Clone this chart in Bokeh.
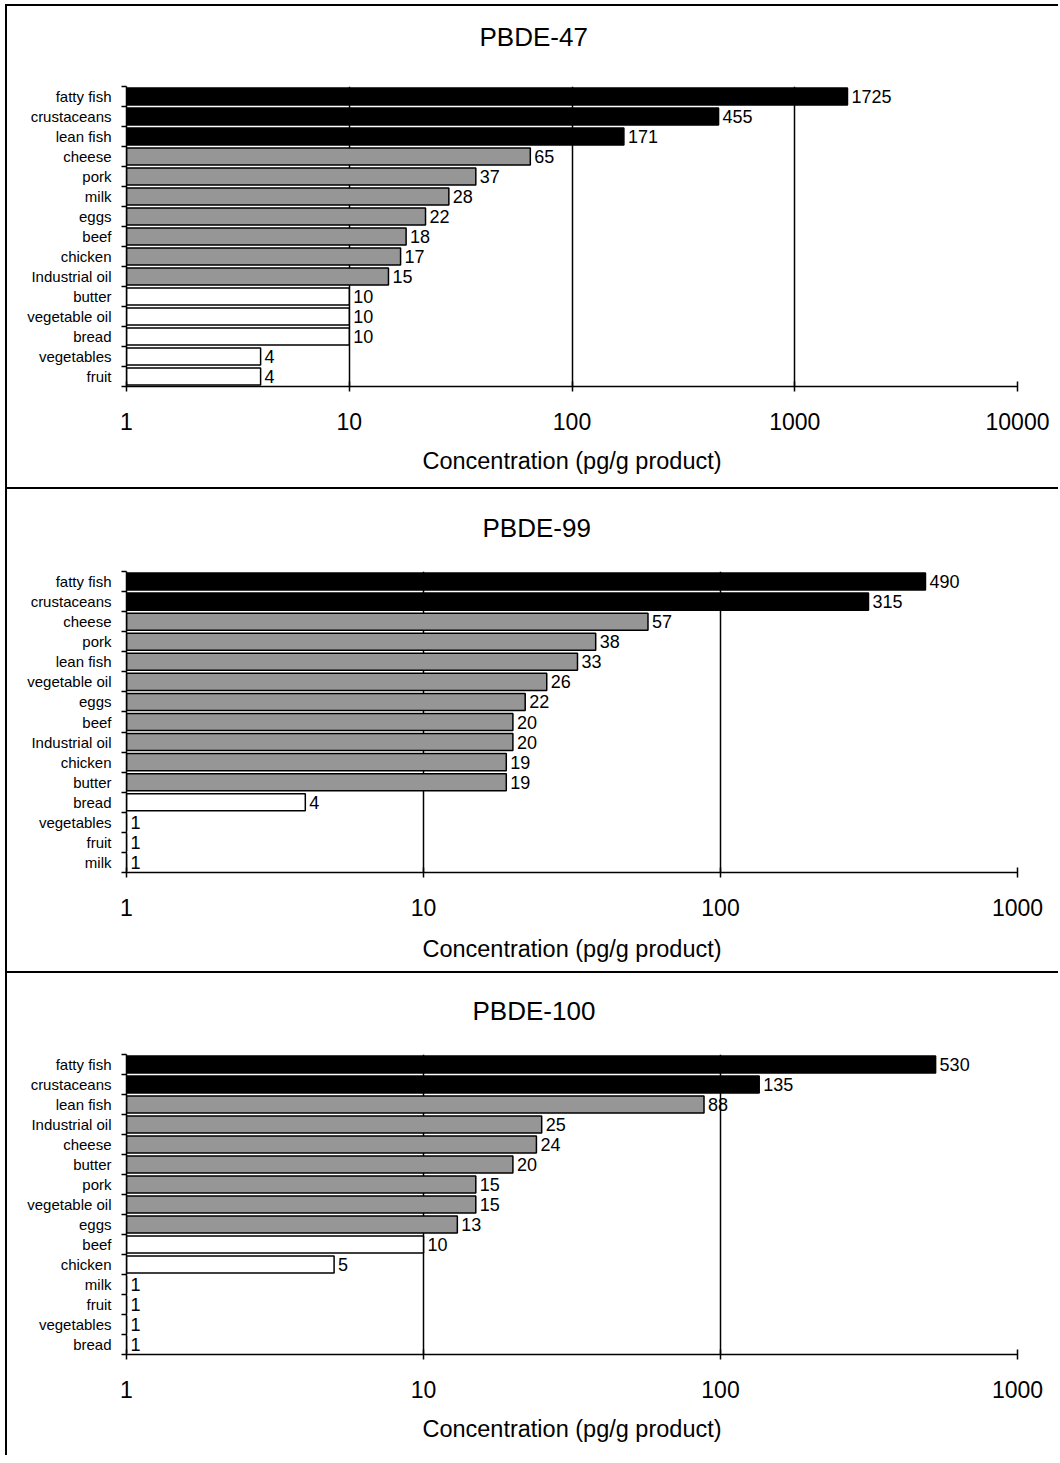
from bokeh.plotting import figure
from bokeh.layouts import column
from bokeh.models import (FixedTicker, LinearAxis, PrintfTickFormatter, Range1d, ColumnDataSource,
                          CustomLabelingPolicy, Title)
from bokeh.core.properties import value
from bokeh.embed import file_html
from bokeh.resources import INLINE

# ---------------- data ----------------
p47_foods = ["fatty fish", "crustaceans", "lean fish", "cheese", "pork", "milk", "eggs", "beef",
             "chicken", "Industrial oil", "butter", "vegetable oil", "bread", "vegetables", "fruit"]
p47_values = [1725, 455, 171, 65, 37, 28, 22, 18, 17, 15, 10, 10, 10, 4, 4]
p47_groups = ["high", "high", "high", "mid", "mid", "mid", "mid", "mid", "mid", "mid",
              "low", "low", "low", "low", "low"]
p47_ticks = [1, 10, 100, 1000, 10000]

p99_foods = ["fatty fish", "crustaceans", "cheese", "pork", "lean fish", "vegetable oil", "eggs", "beef",
             "Industrial oil", "chicken", "butter", "bread", "vegetables", "fruit", "milk"]
p99_values = [490, 315, 57, 38, 33, 26, 22, 20, 20, 19, 19, 4, 1, 1, 1]
p99_groups = ["high", "high", "mid", "mid", "mid", "mid", "mid", "mid", "mid", "mid", "mid",
              "low", "low", "low", "low"]
p99_ticks = [1, 10, 100, 1000]

p100_foods = ["fatty fish", "crustaceans", "lean fish", "Industrial oil", "cheese", "butter", "pork",
              "vegetable oil", "eggs", "beef", "chicken", "milk", "fruit", "vegetables", "bread"]
p100_values = [530, 135, 88, 25, 24, 20, 15, 15, 13, 10, 5, 1, 1, 1, 1]
p100_groups = ["high", "high", "mid", "mid", "mid", "mid", "mid", "mid", "mid",
               "low", "low", "low", "low", "low", "low"]
p100_ticks = [1, 10, 100, 1000]

GROUP_COLORS = {"high": "black", "mid": "#969696", "low": "white"}
FONT = "Liberation Sans"
X_LABEL = "Concentration (pg/g product)"

NO_LABELS = CustomLabelingPolicy(code="""
    for (const i of indices)
        indices.unset(i)
    return indices
""")


def panel(title, foods, values, groups, ticks, height, top, bottom, right, title_offset, spacer,
          label_standoff=15):
    n = len(foods)
    p = figure(width=1053, height=height, x_axis_type="log",
               x_range=Range1d(ticks[0], ticks[-1]), y_range=Range1d(n - 0.5, -0.5),
               output_backend="svg", toolbar_location=None,
               min_border_left=119, min_border_right=right,
               min_border_top=top, min_border_bottom=bottom)
    p.styles = {"border-top": "2px solid black", "border-left": "2px solid black"}
    p.outline_line_color = None
    p.background_fill_color = "white"
    p.border_fill_color = "white"

    # spacer between frame and title, then the title itself
    p.add_layout(Title(text=" ", text_font=FONT, text_font_size=f"{spacer}px", standoff=0), "above")
    p.add_layout(Title(text=title, align="left", offset=title_offset, standoff=4,
                       text_font=FONT, text_font_size="26px", text_font_style="normal",
                       text_color="black"), "above")

    src = ColumnDataSource(dict(
        y=list(range(n)), v=values, left=[ticks[0]] * n,
        color=[GROUP_COLORS[g] for g in groups],
        label=[str(v) for v in values]))
    p.hbar(y="y", left="left", right="v", height=0.85, fill_color="color",
           line_color="black", line_width=1.5, source=src)
    p.text(x="v", y="y", text="label", x_offset=4, text_baseline="middle",
           text_font=value(FONT), text_font_size="18px", text_color="black", source=src)

    # grid
    p.xgrid.ticker = FixedTicker(ticks=ticks)
    p.xgrid.grid_line_color = "black"
    p.xgrid.grid_line_width = 1.5
    p.ygrid.visible = False

    # x axis
    xa = p.xaxis[0]
    xa.ticker = FixedTicker(ticks=ticks)
    xa.formatter = PrintfTickFormatter(format="%d")
    xa.axis_line_color = "black"
    xa.axis_line_width = 1.5
    xa.major_tick_line_width = 1.5
    xa.major_tick_in = 5
    xa.major_tick_out = 5
    xa.minor_tick_line_color = None
    xa.major_label_text_font = FONT
    xa.major_label_text_font_size = "23px"
    xa.major_label_text_color = "black"
    xa.major_label_standoff = 21
    xa.axis_label = X_LABEL
    xa.axis_label_text_font = FONT
    xa.axis_label_text_font_size = "23.5px"
    xa.axis_label_text_font_style = "normal"
    xa.axis_label_text_color = "black"
    xa.axis_label_standoff = label_standoff

    # y axis: ticks at category boundaries, no labels
    ya = p.yaxis[0]
    ya.ticker = FixedTicker(ticks=[i - 0.5 for i in range(n + 1)])
    ya.major_label_policy = NO_LABELS
    ya.major_label_text_font_size = "1px"
    ya.major_label_standoff = 0
    ya.major_tick_in = 0
    ya.major_tick_out = 5
    ya.major_tick_line_width = 1.5
    ya.axis_line_width = 1.5
    ya.minor_tick_line_color = None

    # y axis: category names
    la = LinearAxis(ticker=FixedTicker(ticks=list(range(n))),
                    major_label_overrides={i: f for i, f in enumerate(foods)},
                    major_tick_in=0, major_tick_out=0, axis_line_color=None,
                    minor_tick_line_color=None, major_label_standoff=5,
                    major_label_text_font=FONT, major_label_text_font_size="15px",
                    major_label_text_color="black")
    p.add_layout(la, "left")
    return p


p1 = panel("PBDE-47", p47_foods, p47_values, p47_groups, p47_ticks,
           height=483, top=80, bottom=103, right=43, title_offset=353, spacer=28)
p2 = panel("PBDE-99", p99_foods, p99_values, p99_groups, p99_ticks,
           height=484, top=82, bottom=101, right=37, title_offset=356, spacer=22,
           label_standoff=17)
p3 = panel("PBDE-100", p100_foods, p100_values, p100_groups, p100_ticks,
           height=484, top=81, bottom=103, right=37, title_offset=346, spacer=22)

layout = column(p1, p2, p3, spacing=0, styles={"margin-left": "5px", "margin-top": "4px"})
open("out.html", "w").write(file_html(layout, INLINE))
